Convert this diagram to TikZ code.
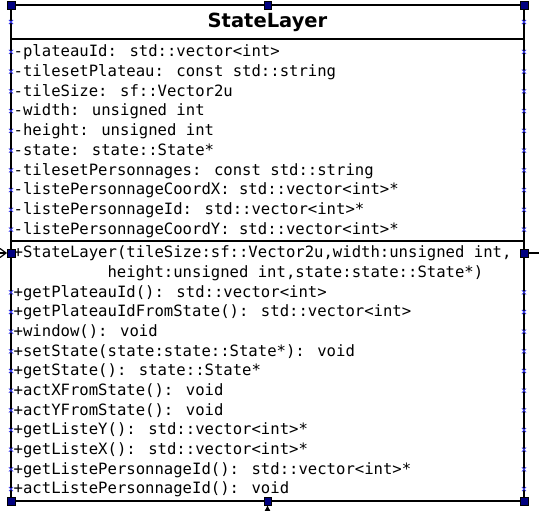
\documentclass[tikz,border=0pt]{standalone}
\usepackage{fontspec}
\usepackage{tikz}
\usetikzlibrary{calc,arrows.meta}
\newfontfamily\umlmono{DejaVu Sans Mono}
\newfontfamily\umltitle{DejaVu Sans}
\definecolor{handlenavy}{RGB}{0,0,128}
\definecolor{crossblue}{RGB}{60,60,240}

\begin{document}
\begin{tikzpicture}[x=1pt, y=-1pt,
    member/.style={anchor=base west, inner sep=0pt,
      font=\umlmono\fontsize{15.6}{18}\selectfont},
    handle/.style={rectangle, draw=black, fill=handlenavy,
      line width=0.4pt, minimum size=7.5pt, inner sep=0pt},
    cross/.style={draw=crossblue, line width=0.75pt}]
    \path [use as bounding box]
      (0, 0) rectangle (539, 511);

    \newcommand{\classbox}{(11, 5) rectangle (524, 501)}
    \newcommand{\xcross}{
      +(-2.1pt, -2.1pt) -- +(2.1pt, 2.1pt)
      +(-2.1pt, 2.1pt) -- +(2.1pt, -2.1pt)
    }

    \path[fill=white, draw=black, line width=2pt] \classbox;
    \path[draw=black, line width=2pt] (11, 39) -- (524, 39);
    \path[draw=black, line width=2pt] (11, 241) -- (524, 241);

    \path[cross] (11, 22) \xcross (524, 22) \xcross;
    \foreach \i in { 0,...,9 } {
      \path[cross] (11, 51.8 + 19.75*\i) \xcross
        (524, 51.8 + 19.75*\i) \xcross;
    }
    \foreach \i in { 2,...,12 } {
      \path[cross] (11, 253 + 19.67*\i) \xcross
        (524, 253 + 19.67*\i) \xcross;
    }

    \node[anchor=base, inner sep=0pt,
      font=\umltitle\bfseries\fontsize{19.5}{22}\selectfont]
      (title) at (267.5, 28) {StateLayer};

    \foreach \txt [count=\i from 0] in {
      {-plateauId: std::vector<int>},
      {-tilesetPlateau: const std::string},
      {-tileSize: sf::Vector2u},
      {-width: unsigned int},
      {-height: unsigned int},
      {-state: state::State*},
      {-tilesetPersonnages: const std::string},
      {-listePersonnageCoordX: std::vector<int>*},
      {-listePersonnageId: std::vector<int>*},
      {-listePersonnageCoordY: std::vector<int>*}
    } {
      \node[member] (attr\i) at (13.5, 56.6 + 19.75*\i) {\txt};
    }

    \foreach \txt [count=\i from 0] in {
      {+StateLayer(tileSize:sf::Vector2u,width:unsigned int,},
      {},
      {+getPlateauId(): std::vector<int>},
      {+getPlateauIdFromState(): std::vector<int>},
      {+window(): void},
      {+setState(state:state::State*): void},
      {+getState(): state::State*},
      {+actXFromState(): void},
      {+actYFromState(): void},
      {+getListeY(): std::vector<int>*},
      {+getListeX(): std::vector<int>*},
      {+getListePersonnageId(): std::vector<int>*},
      {+actListePersonnageId(): void}
    } {
      \node[member] (op\i) at (13.5, 257.8 + 19.67*\i) {\txt};
    }
    \node[member] (opwrap) at (107.4, 257.8 + 19.67) {height:unsigned int,state:state::State*)};

    \foreach \nm/\px/\py in { NW/11/5, N/267.5/5, NE/524/5,
        W/11/253, E/524/253,
        SW/11/501, S/267.5/501, SE/524/501 } {
      \node[handle] (h\nm) at (\px, \py) {};
    }

    \coordinate (inW) at (0, 253);
    \coordinate (outE) at (539, 253);
    \coordinate (inS) at (267.5, 511);
    \draw[line width=1.2pt, -{Straight Barb[length=6pt, width=9pt]}]
      (inW) -- (hW.west);
    \draw[line width=1.5pt] (hE.east) -- (outE);
    \draw[line width=1pt, -{Latex[length=6pt, width=6pt]}]
      (inS) -- (hS.south);
  \end{tikzpicture}
\end{document}
